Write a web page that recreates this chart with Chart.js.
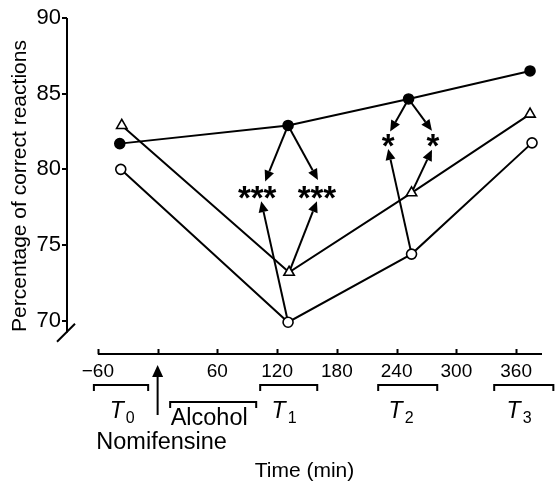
<!DOCTYPE html>
<html>
<head>
<meta charset="utf-8">
<script src="https://cdn.jsdelivr.net/npm/chart.js@4.4.1/dist/chart.umd.min.js"></script>
<style>
  html, body { margin: 0; padding: 0; background: #fff; }
  canvas { display: block; }
</style>
</head>
<body>
<canvas id="chart" width="559" height="488"></canvas>
<script>
// --- data ---
const timesFilled   = [-38, 131, 252, 374];
const timesTriangle = [-36, 132, 255, 374];
const timesOpen     = [-37, 131, 255, 376];

const filledValues   = [81.7, 82.9, 84.65, 86.5];
const triangleValues = [82.9, 73.2, 78.45, 83.65];
const openValues     = [80.0, 69.9, 74.4, 81.75];

const xTicks      = [-60, 0, 60, 120, 180, 240, 300, 360];
const xTickLabels = ['\u221260', '', '60', '120', '180', '240', '300', '360'];
const yTicks      = [70, 75, 80, 85, 90];

// significance marks (time, %)
const starTimes  = [100, 160, 231.5, 276.5];
const starValues = [78.45, 78.45, 81.9, 81.9];
const starTexts  = ['***', '***', '*', '*'];

// arrows: source = [series, point index], tip in (time, %)
const arrowFrom  = [[0, 1], [0, 1], [2, 1], [1, 1], [0, 2], [0, 2], [2, 2], [1, 2]];
const arrowTipT  = [108, 161, 104, 160, 233.5, 275.5, 231.5, 275.5];
const arrowTipV  = [79.2, 79.3, 77.9, 77.9, 82.5, 82.55, 81.35, 81.3];

// test sessions and treatments along the time axis
const sessionStart = [-64, 103, 221.5, 338];
const sessionEnd   = [-9.5, 160.3, 280.8, 397.4];
const sessionLabelT = [-35.5, 127, 244.5, 363];
const sessionSubs  = ['0', '1', '2', '3'];
const alcoholSpan  = [12.6, 99];
const nomifensineTime = 0;

const FAMILY = "'Liberation Sans', Arial, sans-serif";
Chart.defaults.font.family = FAMILY;
Chart.defaults.color = '#000';

const series = [
  { t: timesFilled, v: filledValues },
  { t: timesTriangle, v: triangleValues },
  { t: timesOpen, v: openValues }
];

function mkSet(times, values, style, fill, radius) {
  return {
    data: times.map((t, i) => ({ x: t, y: values[i] })),
    borderColor: '#000',
    borderWidth: 2,
    pointStyle: style,
    pointRadius: radius,
    pointBorderWidth: 1.6,
    pointBorderColor: '#000',
    pointBackgroundColor: fill,
    tension: 0,
    clip: false
  };
}

function arrow(ctx, x1, y1, x2, y2, len = 10, half = 4.5) {
  const a = Math.atan2(y2 - y1, x2 - x1);
  const bx = x2 - Math.cos(a) * len, by = y2 - Math.sin(a) * len;
  ctx.beginPath();
  ctx.moveTo(x1, y1);
  ctx.lineTo(bx, by);
  ctx.stroke();
  ctx.beginPath();
  ctx.moveTo(x2, y2);
  ctx.lineTo(bx - Math.sin(a) * half, by + Math.cos(a) * half);
  ctx.lineTo(bx + Math.sin(a) * half, by - Math.cos(a) * half);
  ctx.closePath();
  ctx.fill();
}

function centeredText(ctx, text, cx, cy) {
  ctx.textAlign = 'center';
  ctx.textBaseline = 'alphabetic';
  const m = ctx.measureText(text);
  ctx.fillText(text, cx, cy + (m.actualBoundingBoxAscent - m.actualBoundingBoxDescent) / 2);
}

function tLabel(ctx, cx, sub) {
  ctx.font = 'italic 23px ' + FAMILY;
  const wT = ctx.measureText('T').width;
  ctx.font = '16px ' + FAMILY;
  const wS = ctx.measureText(sub).width;
  const x0 = cx - (wT + 2 + wS) / 2;
  ctx.textAlign = 'left';
  ctx.textBaseline = 'alphabetic';
  ctx.font = 'italic 23px ' + FAMILY;
  ctx.fillText('T', x0, 418);
  ctx.font = '16px ' + FAMILY;
  ctx.fillText(sub, x0 + wT + 2, 423);
}

const decor = {
  id: 'decor',
  beforeDatasetsDraw(chart) {
    const { ctx, scales: { x, y } } = chart;
    ctx.save();
    ctx.strokeStyle = '#000';
    ctx.fillStyle = '#000';
    ctx.lineWidth = 2;
    arrowFrom.forEach(([si, pi], i) => {
      const s = series[si];
      arrow(ctx,
        x.getPixelForValue(s.t[pi]), y.getPixelForValue(s.v[pi]),
        x.getPixelForValue(arrowTipT[i]), y.getPixelForValue(arrowTipV[i]), 11, 5);
    });
    ctx.restore();
  },
  afterDraw(chart) {
    const { ctx, chartArea, scales: { x, y } } = chart;
    ctx.save();
    ctx.strokeStyle = '#000';
    ctx.fillStyle = '#000';
    ctx.lineWidth = 2;

    // y axis with break
    const xl = chartArea.left;
    const yb = y.getPixelForValue(69.2);
    ctx.beginPath();
    ctx.moveTo(xl, y.getPixelForValue(90));
    ctx.lineTo(xl, yb);
    ctx.moveTo(xl - 10, yb + 9);
    ctx.lineTo(xl + 8, yb - 9);
    ctx.stroke();

    // x axis starting at -60, ticks pointing up
    const yx = chartArea.bottom;
    ctx.beginPath();
    ctx.moveTo(x.getPixelForValue(xTicks[0]), yx);
    ctx.lineTo(chartArea.right, yx);
    x.ticks.forEach(t => {
      const px = Math.round(x.getPixelForValue(t.value)) + 0.5;
      ctx.moveTo(px, yx);
      ctx.lineTo(px, yx - 5);
    });
    ctx.stroke();

    // significance stars
    ctx.font = 'bold 33px ' + FAMILY;
    starTexts.forEach((s, i) => {
      centeredText(ctx, s, x.getPixelForValue(starTimes[i]), y.getPixelForValue(starValues[i]));
    });

    // session brackets
    ctx.lineWidth = 2;
    sessionStart.forEach((s, i) => {
      const a = x.getPixelForValue(s), b = x.getPixelForValue(sessionEnd[i]);
      ctx.beginPath();
      ctx.moveTo(a, 391);
      ctx.lineTo(a, 385);
      ctx.lineTo(b, 385);
      ctx.lineTo(b, 391);
      ctx.stroke();
      tLabel(ctx, x.getPixelForValue(sessionLabelT[i]), sessionSubs[i]);
    });

    // alcohol overbracket
    const a0 = x.getPixelForValue(alcoholSpan[0]), a1 = x.getPixelForValue(alcoholSpan[1]);
    ctx.beginPath();
    ctx.moveTo(a0, 408);
    ctx.lineTo(a0, 402);
    ctx.lineTo(a1, 402);
    ctx.lineTo(a1, 408);
    ctx.stroke();
    ctx.font = '23.5px ' + FAMILY;
    centeredText(ctx, 'Alcohol', (a0 + a1) / 2 - 4, 416);

    // nomifensine arrow
    const nx = x.getPixelForValue(nomifensineTime);
    arrow(ctx, nx, 415, nx, 365, 12, 5.5);
    centeredText(ctx, 'Nomifensine', nx + 4, 440);

    ctx.restore();
  }
};

new Chart(document.getElementById('chart'), {
  type: 'line',
  data: {
    datasets: [
      mkSet(timesFilled, filledValues, 'circle', '#000', 5),
      mkSet(timesTriangle, triangleValues, 'triangle', '#fff', 6),
      mkSet(timesOpen, openValues, 'circle', '#fff', 5)
    ]
  },
  options: {
    responsive: false,
    animation: false,
    devicePixelRatio: 1,
    layout: { padding: { top: 18, right: 17, left: 0, bottom: 0 } },
    plugins: { legend: { display: false }, tooltip: { enabled: false } },
    scales: {
      x: {
        type: 'linear',
        min: -91,
        max: 386,
        border: { display: false },
        grid: { display: false, drawTicks: false },
        afterBuildTicks: s => { s.ticks = xTicks.map(v => ({ value: v })); },
        afterFit: s => { s.height = 134; },
        ticks: {
          color: '#000',
          font: { size: 19 },
          padding: 6,
          maxRotation: 0,
          autoSkip: false,
          callback: (v, i) => xTickLabels[i]
        },
        title: {
          display: true,
          text: 'Time (min)',
          color: '#000',
          font: { size: 21 },
          padding: { top: 0, bottom: 4 }
        }
      },
      y: {
        min: 67.8,
        max: 90,
        border: { display: false },
        grid: { drawOnChartArea: false, tickLength: 5, color: '#000', lineWidth: 2 },
        afterBuildTicks: s => { s.ticks = yTicks.map(v => ({ value: v })); },
        afterFit: s => { s.width = 67; },
        ticks: { color: '#000', font: { size: 22 }, padding: 1 },
        title: {
          display: true,
          text: 'Percentage of correct reactions',
          color: '#000',
          font: { size: 21 },
          padding: { top: 8, bottom: 0 }
        }
      }
    }
  },
  plugins: [decor]
});
</script>
</body>
</html>
